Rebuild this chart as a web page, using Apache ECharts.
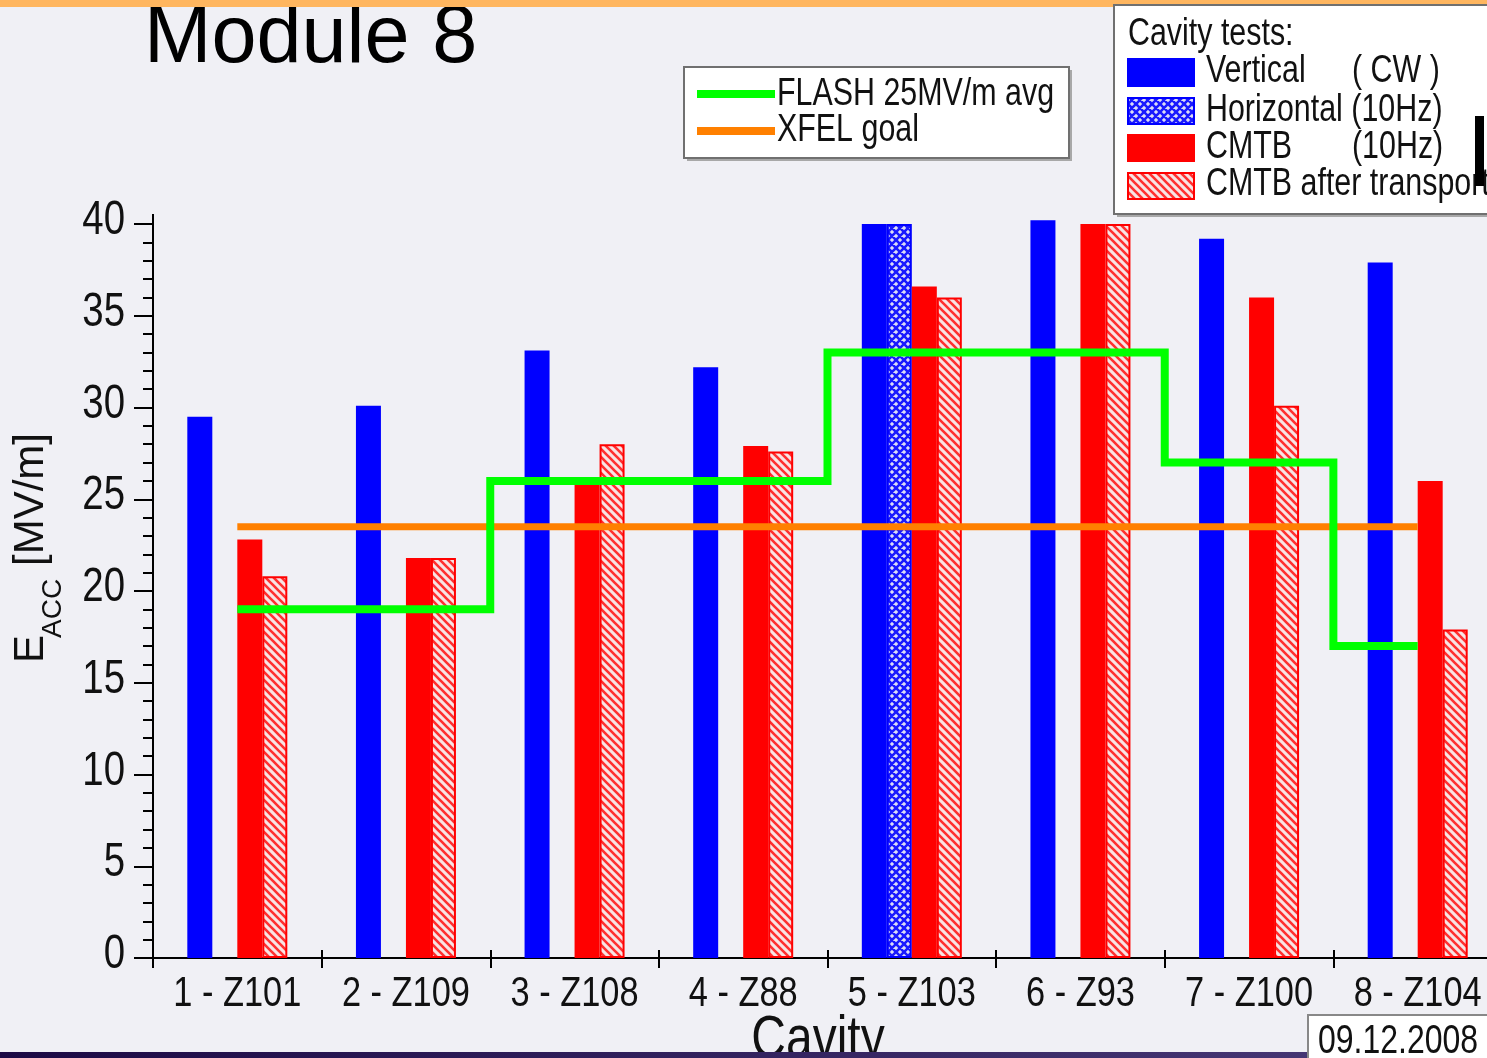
<!DOCTYPE html>
<html>
<head>
<meta charset="utf-8">
<script src="https://cdn.jsdelivr.net/npm/echarts@6/dist/echarts.min.js"></script>
<style>
html,body{margin:0;padding:0;background:#F0F0F5;overflow:hidden;width:1487px;height:1058px;}
#chart{width:1502px;height:1058px;}
</style>
</head>
<body>
<div id="chart"></div>
<script>
// ---- data ----
const categories = ['1 - Z101','2 - Z109','3 - Z108','4 - Z88','5 - Z103','6 - Z93','7 - Z100','8 - Z104'];
const vertical   = [29.5, 30.1, 33.1, 32.2, 40.0, 40.2, 39.2, 37.9];
const horizontal = [null, null, null, null, 40.0, null, null, null];
const cmtb       = [22.8, 21.8, 26.0, 27.9, 36.6, 40.0, 36.0, 26.0];
const cmtbAfter  = [20.8, 21.8, 28.0, 27.6, 36.0, 40.0, 30.1, 17.9];
const flashAvg   = [19, 19, 26, 26, 33, 33, 27, 17];
const xfelGoal   = [23.5, 23.5, 23.5, 23.5, 23.5, 23.5, 23.5, 23.5];
const yTicks     = [0, 5, 10, 15, 20, 25, 30, 35, 40];

const REG = '"Liberation Sans", Arial, sans-serif';
const SQ = 0.8; // horizontal squeeze of the reference's upright text

function hatch(bg, fg, lw, cross) {
  const c = document.createElement('canvas');
  c.width = 8; c.height = 8;
  const g = c.getContext('2d');
  g.fillStyle = bg; g.fillRect(0, 0, 8, 8);
  g.strokeStyle = fg; g.lineWidth = lw;
  g.beginPath();
  g.moveTo(-2, -2); g.lineTo(10, 10);
  g.moveTo(-2, 6); g.lineTo(2, 10);
  g.moveTo(6, -2); g.lineTo(10, 2);
  if (cross) {
    g.moveTo(10, -2); g.lineTo(-2, 10);
    g.moveTo(2, -2); g.lineTo(-2, 2);
    g.moveTo(10, 6); g.lineTo(6, 10);
  }
  g.stroke();
  return c;
}
const redPat = { image: hatch('#f8e4e4', '#ff3030', 2.6, false), repeat: 'repeat' };
const bluePat = { image: hatch('#dcdcf6', '#1a1aff', 2.6, true), repeat: 'repeat' };

const chart = echarts.init(document.getElementById('chart'));

function txt(x, y, s, size, align, z) {
  return {
    type: 'text', x: x, y: y, scaleX: SQ, scaleY: 1, z: z || 110,
    style: { text: s, font: size + 'px ' + REG, fill: '#111', align: align || 'left', verticalAlign: 'middle' }
  };
}

chart.setOption({
  backgroundColor: '#F0F0F5',
  animation: false,
  title: {
    text: 'Module 8', left: 144, top: -1, padding: 0,
    textStyle: { fontFamily: REG, fontSize: 81, fontWeight: 'normal', color: '#000' }
  },
  grid: { left: 153, top: 224, right: 0, bottom: 100, containLabel: false },
  xAxis: [{
    type: 'category', data: categories,
    axisLine: { lineStyle: { color: '#000', width: 2 } },
    axisTick: { show: true, length: 10, lineStyle: { color: '#000', width: 2 } },
    axisLabel: { show: false },
    splitLine: { show: false }
  }, {
    type: 'category', data: categories, position: 'bottom', offset: 0,
    axisLine: { show: true, onZero: false, lineStyle: { color: '#000', width: 2, opacity: 0 } },
    axisTick: { show: true, inside: true, length: 8, lineStyle: { color: '#000', width: 2, opacity: 1 } },
    axisLabel: { show: false },
    splitLine: { show: false }
  }],
  yAxis: {
    type: 'value', min: yTicks[0], max: yTicks[yTicks.length - 1], interval: 5,
    axisLine: { show: true, lineStyle: { color: '#000', width: 2 } },
    axisTick: { show: true, length: 19, lineStyle: { color: '#000', width: 2 } },
    minorTick: { show: true, splitNumber: 5, length: 10, lineStyle: { color: '#000', width: 2 } },
    splitLine: { show: false },
    axisLabel: { show: false }
  },
  series: [
    { name: 'Vertical (CW)', type: 'bar', data: vertical, barWidth: 25, barGap: '0%', clip: false,
      itemStyle: { color: '#0000FF' } },
    { name: 'Horizontal (10Hz)', type: 'bar', data: horizontal, barWidth: 25, barGap: '0%', clip: false,
      itemStyle: { color: bluePat, borderColor: '#0000FF', borderWidth: 2 } },
    { name: 'CMTB (10Hz)', type: 'bar', data: cmtb, barWidth: 25, barGap: '0%', clip: false,
      itemStyle: { color: '#FF0000' } },
    { name: 'CMTB after transport', type: 'bar', data: cmtbAfter, barWidth: 25, barGap: '0%', clip: false,
      itemStyle: { color: redPat, borderColor: '#FF0000', borderWidth: 2 } },
    { name: 'XFEL goal', type: 'line', data: xfelGoal, symbol: 'none', z: 5,
      lineStyle: { color: '#FF8000', width: 7 } },
    { name: 'FLASH 25MV/m avg', type: 'line', data: flashAvg, step: 'middle', symbol: 'none', z: 6,
      lineStyle: { color: '#00FF00', width: 8, cap: 'butt', join: 'miter' } }
  ]
});

// tick labels placed through the library's own scales (condensed like the reference)
const c0 = chart.convertToPixel({ xAxisIndex: 0, yAxisIndex: 0 }, [0, 0]);
const c1 = chart.convertToPixel({ xAxisIndex: 0, yAxisIndex: 0 }, [1, 0]);
const axisX = c0[0] - (c1[0] - c0[0]) / 2;
const axisY = c0[1];
const labelEls = [];
categories.forEach(function (c, i) {
  const p = chart.convertToPixel({ xAxisIndex: 0, yAxisIndex: 0 }, [i, 0]);
  labelEls.push(txt(p[0], axisY + 36, c, 43, 'center'));
});
yTicks.forEach(function (v) {
  const p = chart.convertToPixel({ xAxisIndex: 0, yAxisIndex: 0 }, [0, v]);
  labelEls.push(txt(axisX - 28, p[1] - 3, String(v), 48, 'right'));
});

const deco = [
  // top & bottom frame strips
  { type: 'rect', shape: { x: 0, y: 0, width: 1502, height: 7 }, style: { fill: '#FFB65F' }, z: 90 },
  { type: 'rect', shape: { x: 0, y: 1052, width: 1502, height: 6 }, z: 120,
    style: { fill: { type: 'linear', x: 0, y: 0, x2: 1, y2: 0, colorStops: [{ offset: 0, color: '#1C0A45' }, { offset: 1, color: '#4B3C7A' }] } } },
  // y axis extension above the top tick
  { type: 'rect', shape: { x: axisX - 1, y: 214, width: 2, height: 12 }, style: { fill: '#000' }, z: 50 },
  // y axis name (rotated)
  { type: 'group', x: 31.5, y: 663, rotation: Math.PI / 2, z: 110, children: [
    { type: 'text', x: 0, y: 0, style: { text: 'E', font: '42px ' + REG, fill: '#111', align: 'left', verticalAlign: 'middle' } },
    { type: 'text', x: 25, y: 22, style: { text: 'ACC', font: '28px ' + REG, fill: '#111', align: 'left', verticalAlign: 'middle' } },
    { type: 'text', x: 97, y: 0, style: { text: '[MV/m]', font: '42px ' + REG, fill: '#111', align: 'left', verticalAlign: 'middle' } }
  ] },
  // x axis name
  txt(818, 1040, 'Cavity', 60, 'center'),
  // legend box 1
  { type: 'rect', shape: { x: 687, y: 70, width: 385, height: 91 }, style: { fill: '#A8A8A8' }, z: 100 },
  { type: 'rect', shape: { x: 684, y: 67, width: 385, height: 91 }, style: { fill: '#FFFFFF', stroke: '#707070', lineWidth: 2 }, z: 101 },
  { type: 'rect', shape: { x: 697, y: 90, width: 78, height: 8 }, style: { fill: '#00FF00' }, z: 110 },
  { type: 'rect', shape: { x: 697, y: 127, width: 78, height: 8 }, style: { fill: '#FF8000' }, z: 110 },
  txt(777, 95, 'FLASH 25MV/m avg', 38),
  txt(777, 131, 'XFEL goal', 38),
  // legend box 2
  { type: 'rect', shape: { x: 1117, y: 8, width: 400, height: 209 }, style: { fill: '#A8A8A8' }, z: 100 },
  { type: 'rect', shape: { x: 1114, y: 5, width: 400, height: 209 }, style: { fill: '#FFFFFF', stroke: '#707070', lineWidth: 2 }, z: 101 },
  txt(1128, 35, 'Cavity tests:', 38),
  { type: 'rect', shape: { x: 1127, y: 58, width: 68, height: 29 }, style: { fill: '#0000FF' }, z: 110 },
  { type: 'rect', shape: { x: 1128, y: 98, width: 66, height: 26 }, style: { fill: bluePat, stroke: '#0000FF', lineWidth: 2 }, z: 110 },
  { type: 'rect', shape: { x: 1127, y: 134, width: 68, height: 28 }, style: { fill: '#FF0000' }, z: 110 },
  { type: 'rect', shape: { x: 1128, y: 173, width: 66, height: 26 }, style: { fill: redPat, stroke: '#FF0000', lineWidth: 2 }, z: 110 },
  txt(1206, 72, 'Vertical', 38),
  txt(1352, 72, '( CW )', 38),
  txt(1206, 111, 'Horizontal (10Hz)', 38),
  txt(1206, 148, 'CMTB', 38),
  txt(1352, 148, '(10Hz)', 38),
  txt(1206, 185, 'CMTB after transport', 38),
  { type: 'rect', shape: { x: 1475, y: 116, width: 9, height: 70 }, style: { fill: '#000000' }, z: 111 },
  // date box
  { type: 'rect', shape: { x: 1308, y: 1015, width: 200, height: 60 }, style: { fill: '#FFFFFF', stroke: '#888888', lineWidth: 2 }, z: 125 },
  txt(1318, 1042, '09.12.2008', 40, 'left', 126)
];

chart.setOption({ graphic: deco.concat(labelEls) });
</script>
</body>
</html>
